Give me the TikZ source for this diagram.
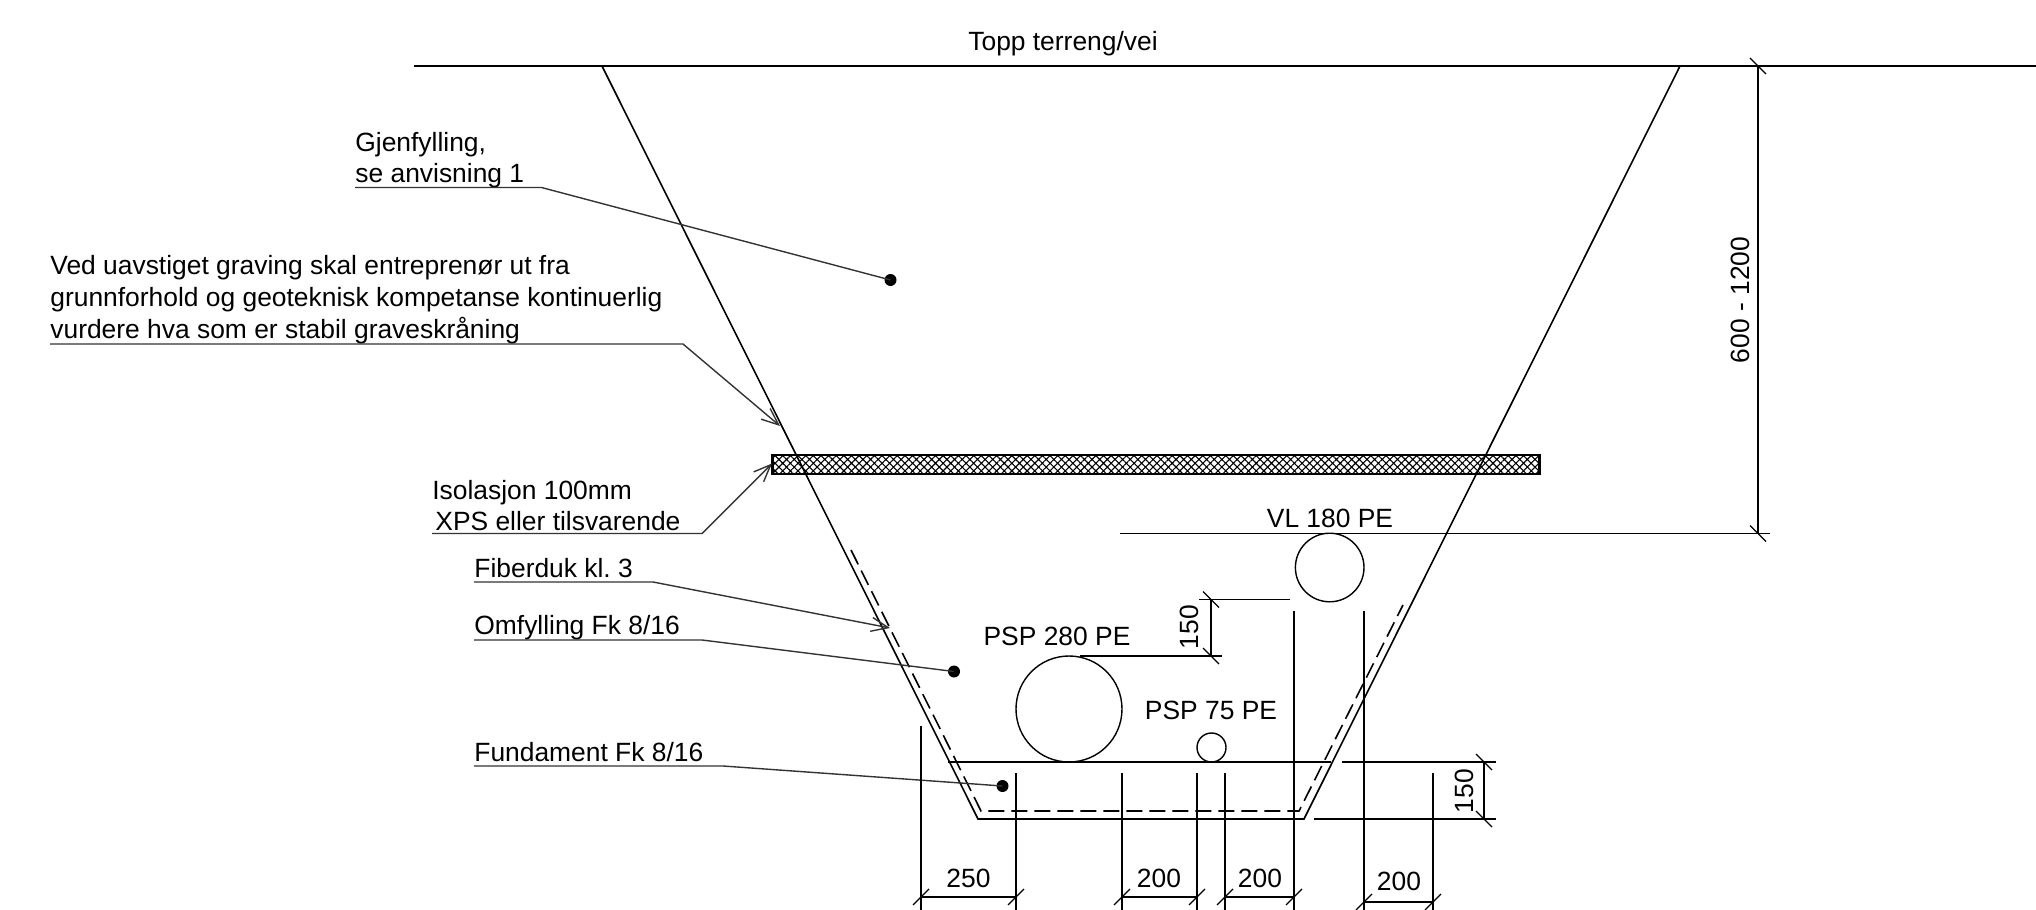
\documentclass[tikz,border=0pt]{standalone}
\usepackage{fontspec}
\setmainfont{Liberation Sans}
\usetikzlibrary{arrows.meta,patterns.meta}
\frenchspacing

\begin{document}
\begin{tikzpicture}
      [ x=0.5pt, y=-0.5pt
      , font=\fontsize{13.2}{16}\selectfont
      , cut/.style={black, line width=0.8pt}
      , leader/.style={black!80, line width=0.7pt}
      , barb/.style={leader, -{Straight Barb[length=8.5pt, width=7pt]}}
      , dimline/.style={black, line width=0.55pt}
      , pipe/.style={circle, draw, black, line width=0.7pt, minimum size=#1, inner sep=0pt}
      , dot/.style={circle, fill=black, minimum size=6pt, inner sep=0pt}
      , label/.style={inner sep=0pt}
      , note/.style={inner xsep=0pt, text depth=0pt, anchor=south west, align=left}
      , tight/.style={font=\fontsize{13.2}{15.5}\selectfont}
      ]
    \useasboundingbox (0,0) rectangle (2036,910);

    % excavation
    \coordinate (TL) at (414,66);
    \coordinate (TR) at (2036,66);
    \coordinate (SL) at (602,66);
    \coordinate (SR) at (1680,66);
    \coordinate (BL) at (978,819);
    \coordinate (BR) at (1304,819);
    \coordinate (FL) at (948,762);
    \coordinate (FR) at (1331,762);
    \draw[cut] (TL) -- (TR);
    \draw[cut] (SL) -- (BL) -- (BR) -- (SR);
    \draw[cut] (FL) -- (FR);

    % fabric
    \coordinate (G1) at (851,550);
    \coordinate (G2) at (981,811);
    \coordinate (G3) at (1299,811);
    \coordinate (G4) at (1403,605);
    \draw[cut, dash pattern=on 8pt off 3.5pt] (G1) -- (G2) -- (G3) -- (G4);

    % insulation
    \node[draw, line width=1.2pt, minimum width=383.5pt, minimum height=9.5pt, inner sep=0pt
         , pattern={Hatch[angle=45, distance=2.7pt, line width=0.55pt]}] (XPS) at (1156,464.5) {};

    % pipes
    \node[pipe=53pt] (P280) at (1069,709) {};
    \node[pipe=14.5pt] (P75) at (1211.5,747.5) {};
    \node[pipe=34.3pt] (VL) at (1329.7,567.5) {};
    \node[label] (LP280) at (1057,636) {PSP 280 PE};
    \node[label] (LP75) at (1211,710) {PSP 75 PE};
    \node[label] (LVL) at (1330,518) {VL 180 PE};
    \node[label] (LT) at (1063,43.5) {Topp terreng/vei};

    % notes
    \node[note, tight, inner ysep=2.1pt] (NG) at (355,187.5) {Gjenfylling,\\se anvisning 1};
    \node[note, inner ysep=2.4pt] (NV) at (50,344) {Ved uavstiget graving skal entreprenør ut fra\\grunnforhold og geoteknisk kompetanse kontinuerlig\\vurdere hva som er stabil graveskråning};
    \node[note, tight, inner ysep=1.5pt] (NI) at (432,533.5) {Isolasjon 100mm\\\hspace{1.5pt}XPS eller tilsvarende};
    \node[note, inner ysep=1.9pt] (NF) at (474,582) {Fiberduk kl. 3};
    \node[note, inner ysep=2.7pt] (NO) at (474,640) {Omfylling Fk 8/16};
    \node[note, inner ysep=1.9pt] (NU) at (474,766) {Fundament Fk 8/16};

    \node[dot] (DG) at (890.5,280) {};
    \node[dot] (DO) at (954,671.5) {};
    \node[dot] (DU) at (1002.5,786) {};
    \coordinate (KG) at (541.5,187.5);
    \coordinate (KV) at (683,344);
    \coordinate (KI) at (702,533.5);
    \coordinate (KF) at (653,582);
    \coordinate (KO) at (702,640);
    \coordinate (KU) at (723,766);
    \coordinate (AV) at (780,426);
    \coordinate (AI) at (772,463.5);
    \coordinate (AF) at (890,628);

    \draw[leader] (NG.south west) -- (KG) -- (DG.center);
    \draw[barb] (NV.south west) -- (KV) -- (AV);
    \draw[barb] (NI.south west) -- (KI) -- (AI);
    \draw[barb] (NF.south west) -- (KF) -- (AF);
    \draw[leader] (NO.south west) -- (KO) -- (DO.center);
    \draw[leader] (NU.south west) -- (KU) -- (DU.center);

    % dimensions
    \foreach \name/\x/\y in {a/921/726, b/1016/773, c/1122/773, d/1197/773, e/1225/773, f/1294/611, g/1364/611, h/1433/773}
      {\coordinate (E\name) at (\x,\y);
       \coordinate (F\name) at (\x,910);
       \draw[dimline] (E\name) -- (F\name);}

    \foreach \from/\to/\y/\txt/\tx/\ty in {a/b/897/250/968.5/878, c/d/897/200/1159/878, e/f/897/200/1260/878, g/h/902/200/1399/881.5}
      {\coordinate (S) at (E\from |- 0,\y);
       \coordinate (T) at (E\to |- 0,\y);
       \draw[dimline] (S) -- (T);
       \draw[dimline] ([shift={(-8,8)}]S) -- ([shift={(8,-8)}]S);
       \draw[dimline] ([shift={(-8,8)}]T) -- ([shift={(8,-8)}]T);
       \node[label] (L\from) at (\tx,\ty) {\txt};}

    % levels
    \coordinate (H1) at (1120,533.5);
    \coordinate (H2) at (1770,533.5);
    \coordinate (H3) at (1758,66);
    \coordinate (H4) at (1758,533.5);
    \draw[dimline] (H1) -- (H2);
    \draw[dimline] (H3) -- (H4);
    \foreach \p in {H3,H4}
      \draw[dimline] ([shift={(-8,-8)}]\p) -- ([shift={(8,8)}]\p);
    \node[label, rotate=90] (D600) at (1740,300) {600 - 1200};

    \coordinate (J1) at (1342,762);
    \coordinate (J2) at (1496,762);
    \coordinate (J3) at (1314,819);
    \coordinate (J4) at (1496,819);
    \coordinate (J5) at (1484,762);
    \coordinate (J6) at (1484,819);
    \draw[dimline] (J1) -- (J2);
    \draw[dimline] (J3) -- (J4);
    \draw[dimline] (J5) -- (J6);
    \foreach \p in {J5,J6}
      \draw[dimline] ([shift={(-8,-8)}]\p) -- ([shift={(8,8)}]\p);
    \node[label, rotate=90] (D150) at (1464,791) {150};

    \coordinate (K1) at (1199,599.5);
    \coordinate (K2) at (1290,599.5);
    \coordinate (K3) at (1080,656);
    \coordinate (K4) at (1222,656);
    \coordinate (K5) at (1211,599.5);
    \coordinate (K6) at (1211,656);
    \draw[dimline] (K1) -- (K2);
    \draw[dimline] (K3) -- (K4);
    \draw[dimline] (K5) -- (K6);
    \foreach \p in {K5,K6}
      \draw[dimline] ([shift={(-8,-8)}]\p) -- ([shift={(8,8)}]\p);
    \node[label, rotate=90] (D151) at (1189,627) {150};
    \end{tikzpicture}
\end{document}
